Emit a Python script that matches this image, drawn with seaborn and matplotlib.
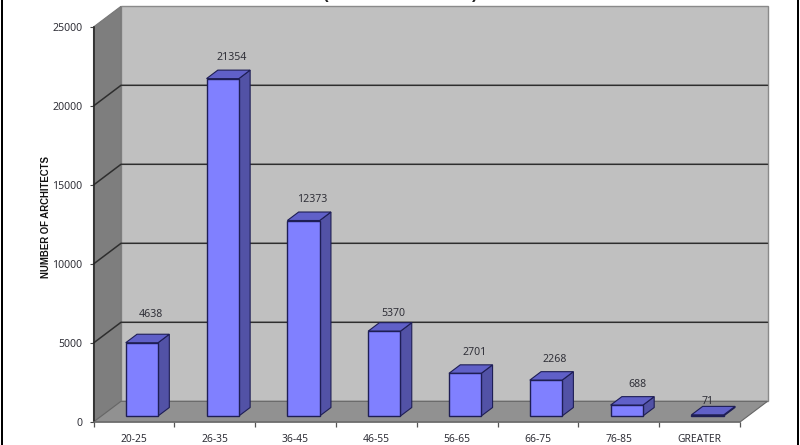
import numpy as np
import pandas as pd
import matplotlib
matplotlib.use("Agg")
import matplotlib.pyplot as plt
from matplotlib.patches import Polygon, Rectangle
from matplotlib.transforms import Affine2D
import seaborn as sns

age_groups = ["20-25", "26-35", "36-45", "46-55", "56-65", "66-75", "76-85", "GREATER"]
architects = [4638, 21354, 12373, 5370, 2701, 2268, 688, 71]
y_ticks = [0, 5000, 10000, 15000, 20000, 25000]
y_label = "NUMBER OF ARCHITECTS"

W, H = 800, 445
FRONT = "#8080FF"; SIDE = "#5252A6"; TOP = "#6060C8"; EDGE = "#1E1E55"
BACK = "#C0C0C0"; WALL = "#7E7E7E"; FLOOR = "#919191"
TXT = "#303038"

df = pd.DataFrame({"age": age_groups, "n": architects})
sns.set_style("white")
plt.rcParams["font.family"] = ["Noto Sans", "DejaVu Sans"]
fig = plt.figure(figsize=(W / 100, H / 100), dpi=100, facecolor="white")
ax = fig.add_axes([93.5 / W, 1 - 422 / H, 646.5 / W, 395 / H])
ax.patch.set_visible(False)

sns.barplot(data=df, x="age", y="n", ax=ax, color=FRONT, saturation=1, width=0.4,
            edgecolor=EDGE, linewidth=1.0, errorbar=None, zorder=5)
ax.set_xlim(-0.5, 7.5)
ax.set_ylim(0, 25000)

# oblique projection: depth expressed in axis units
DX, DY = 27.5 / 80.8, 20.7 * 25000 / 395
def proj(x, y, d):
    return (x + d * DX, y + d * DY)

def poly(pts, fc, ec, z, lw=0.8):
    ax.add_patch(Polygon(pts, closed=True, facecolor=fc, edgecolor=ec, linewidth=lw,
                         zorder=z, clip_on=False))

x0, x1, y0, y1 = -0.5, 7.5, 0, 25000
poly([proj(x0, y0, 1), proj(x1, y0, 1), proj(x1, y1, 1), proj(x0, y1, 1)], BACK, "#8A8A8A", 0, 1.0)
poly([proj(x0, y0, 0), proj(x0, y0, 1), proj(x0, y1, 1), proj(x0, y1, 0)], WALL, "#777777", 1, 0.8)
poly([proj(x0, y0, 0), proj(x1, y0, 0), proj(x1, y0, 1), proj(x0, y0, 1)], FLOOR, "#666666", 1, 0.8)

for t in y_ticks[1:-1]:
    ax.plot(*zip(proj(x0, t, 0), proj(x0, t, 1), proj(x1, t, 1)), color="#2E2E2E", lw=1.1,
            zorder=2, clip_on=False)

# bars stand slightly behind the front plane
D0, D1 = 0.29, 0.70
shift = Affine2D().translate(D0 * DX, D0 * DY)
for bar in ax.containers[0]:
    bar.set_transform(shift + ax.transData)
    bar.set_clip_on(False)
    l, r, v = bar.get_x(), bar.get_x() + bar.get_width(), bar.get_height()
    poly([proj(r, 0, D0), proj(r, 0, D1), proj(r, v, D1), proj(r, v, D0)], SIDE, EDGE, 4)
    poly([proj(l, v, D0), proj(l, v, D1), proj(r, v, D1), proj(r, v, D0)], TOP, EDGE, 4)

# value labels, offset from the bar's front top in pixels
label_offsets = {4638: (9, 28), 5370: (9, 18), 688: (11, 21), 71: (0, 13)}
for i, v in enumerate(architects):
    ox, oy = label_offsets.get(v, (9, 21))
    ax.annotate(str(v), xy=proj(i, v, D0), xytext=(ox * 0.72, oy * 0.72),
                textcoords="offset points", ha="center", va="center",
                fontsize=7.6, color=TXT, zorder=8, annotation_clip=False)

for s in ("top", "right"):
    ax.spines[s].set_visible(False)
ax.spines["left"].set_color("#222222"); ax.spines["left"].set_linewidth(1.1); ax.spines["left"].set_zorder(3)
ax.spines["bottom"].set_color("#6E6E6E"); ax.spines["bottom"].set_linewidth(1.1); ax.spines["bottom"].set_zorder(3)

ax.set_yticks(y_ticks)
ax.tick_params(axis="y", length=2.6, width=0.8, color="#444444", pad=5.5, labelsize=7.6,
               labelcolor=TXT, left=True)
ax.set_xticks(range(len(age_groups)))
ax.set_xticklabels(age_groups)
ax.set_xticks(np.arange(-0.5, 8), minor=True)
ax.tick_params(axis="x", which="major", length=0, pad=8.5, labelsize=7.4, labelcolor=TXT)
ax.tick_params(axis="x", which="minor", length=3.8, width=0.9, color="#555555", bottom=True)
ax.set_xlabel("")
ax.set_ylabel("")
fig.text(46 / W, 1 - 217 / H, y_label, rotation=90, ha="center", va="center",
         fontsize=6.9, fontweight="bold", color="#111111", family="Liberation Sans")

# clipped title remnants at the top edge
for px, s in ((325, "("), (475, ")")):
    fig.text(px / W, 1 + 1.0 / H, s, ha="center", va="baseline", fontsize=12,
             fontweight="bold", color="#222222", family="Liberation Sans")

# black frame strips at the image edges
for px in (1, 797):
    fig.add_artist(Rectangle((px / W, 0), 2.4 / W, 1, transform=fig.transFigure,
                             facecolor="black", edgecolor="none"))

fig.savefig("out.png", dpi=100, facecolor="white")
